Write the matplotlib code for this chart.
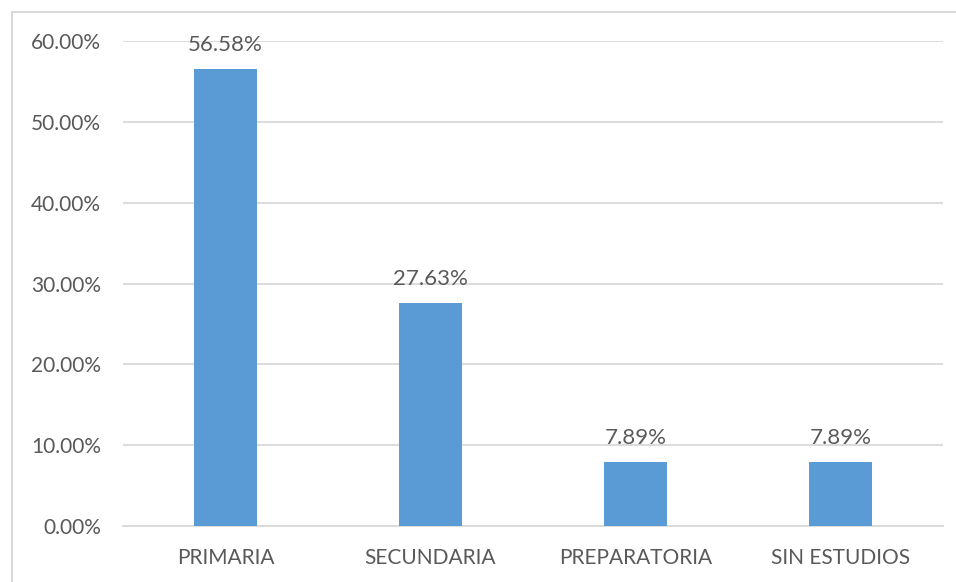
import matplotlib.pyplot as plt
from matplotlib.lines import Line2D

# Data
categories = ['PRIMARIA', 'SECUNDARIA', 'PREPARATORIA', 'SIN ESTUDIOS']
values = [56.58, 27.63, 7.89, 7.89]
y_ticks = [0, 10, 20, 30, 40, 50, 60]

bar_color = '#5B9BD5'
text_color = '#595959'
grid_color = '#D9D9D9'

plt.rcParams['font.family'] = ['Lato', 'DejaVu Sans']

fig = plt.figure(figsize=(9.56, 5.82), dpi=100)
ax = fig.add_axes([123 / 956, 1 - 526 / 582, 820 / 956, 485 / 582])

x = range(len(categories))
bars = ax.bar(x, values, width=0.31, color=bar_color, zorder=3)

for rect, v in zip(bars, values):
    ax.annotate(f'{v:.2f}%', (rect.get_x() + rect.get_width() / 2, v),
                xytext=(0, 10), textcoords='offset points',
                ha='center', va='bottom', fontsize=16, color=text_color)

ax.set_xlim(-0.5, len(categories) - 0.5)
ax.set_ylim(0, 60)
ax.set_yticks(y_ticks)
ax.set_yticklabels([f'{t:.2f}%' for t in y_ticks])
ax.set_xticks(list(x))
ax.set_xticklabels(categories)

ax.tick_params(axis='y', length=0, pad=16, labelsize=15, labelcolor=text_color)
ax.tick_params(axis='x', length=0, pad=16, labelsize=15, labelcolor=text_color)

ax.yaxis.grid(True, color=grid_color, linewidth=1.3, zorder=0)
ax.set_axisbelow(True)
for side in ['top', 'right', 'left']:
    ax.spines[side].set_visible(False)
ax.spines['bottom'].set_color(grid_color)
ax.spines['bottom'].set_linewidth(1.3)

# Chart-area border (only left and top edges are visible in the crop)
fig.add_artist(Line2D([11.5 / 956, 11.5 / 956], [0, 1 - 11.5 / 582],
                      color=grid_color, linewidth=1.5, transform=fig.transFigure))
fig.add_artist(Line2D([11.5 / 956, 1], [1 - 11.5 / 582, 1 - 11.5 / 582],
                      color=grid_color, linewidth=1.5, transform=fig.transFigure))

fig.savefig('out.png', dpi=100)
